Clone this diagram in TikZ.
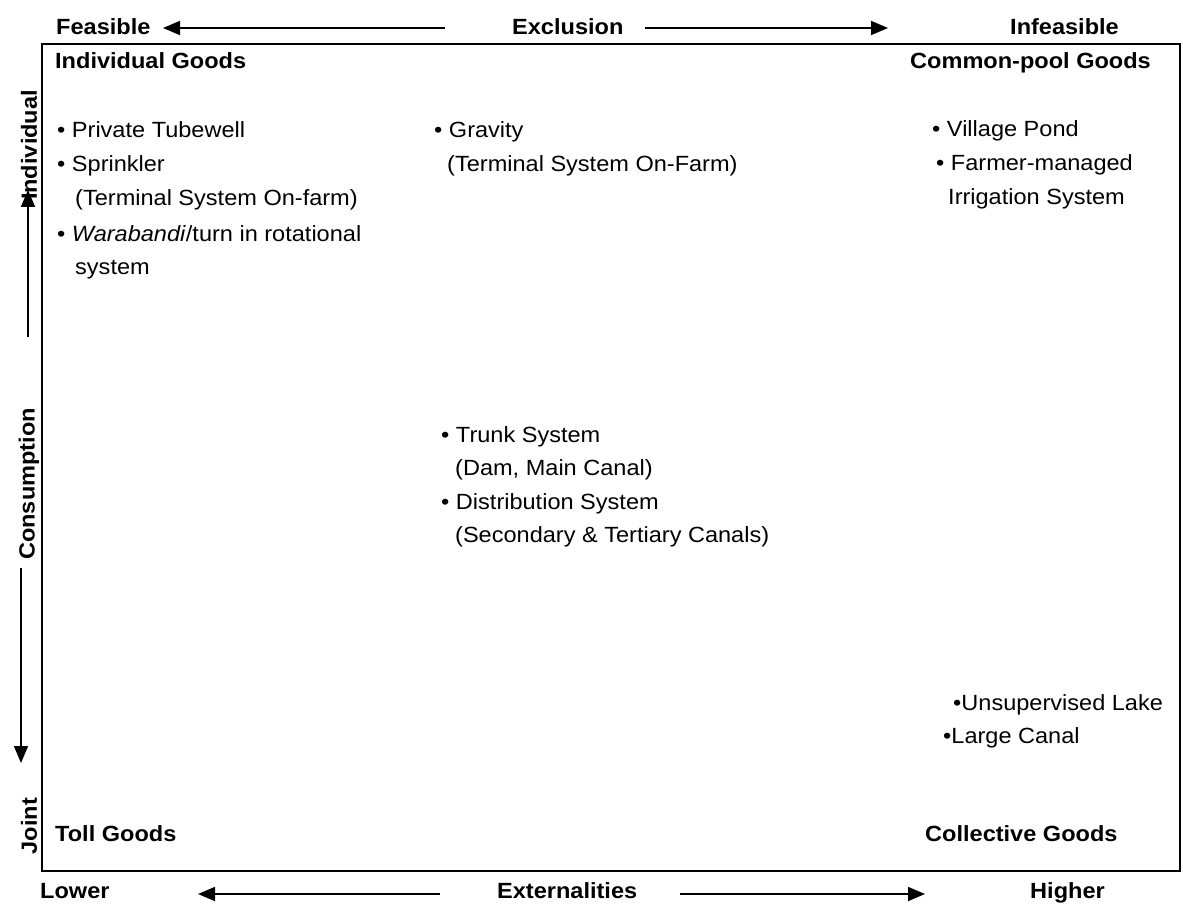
\documentclass[tikz,border=0pt]{standalone}
\usepackage{fontspec}
\setmainfont{Liberation Sans}[FakeStretch=1.07]
\usetikzlibrary{arrows.meta}
\begin{document}
\begin{tikzpicture}[x=1pt,y=-1pt,
  lbl/.style={anchor=base west,inner sep=0pt,font=\fontsize{22}{34}\selectfont},
  blbl/.style={lbl,font=\fontsize{22}{34}\selectfont\bfseries},
  axlbl/.style={inner sep=0pt,font=\fontsize{22}{26}\selectfont\bfseries},
  axarrow/.style={line width=1.6pt,-{Triangle[length=17pt,width=14pt]}},
  frame/.style={line width=1.8pt}]
\useasboundingbox (0,0) rectangle (1183,904);
% frame
\draw[frame] (42,44) rectangle (1180,871);
% top axis
\node[blbl] (feas) at (56,35) {Feasible};
\node[blbl] (excl) at (512,35) {Exclusion};
\node[blbl] (infeas) at (1010,35) {Infeasible};
\coordinate (tl1) at (445,28);
\coordinate (tl2) at (163,28);
\coordinate (tr1) at (645,28);
\coordinate (tr2) at (888,28);
\draw[axarrow] (tl1) -- (tl2);
\draw[axarrow] (tr1) -- (tr2);
% bottom axis
\node[blbl] (lower) at (40,898) {Lower};
\node[blbl] (ext) at (497,898) {Externalities};
\node[blbl] (higher) at (1030,898) {Higher};
\coordinate (bl1) at (440,894);
\coordinate (bl2) at (198,894);
\coordinate (br1) at (680,894);
\coordinate (br2) at (925,894);
\draw[axarrow] (bl1) -- (bl2);
\draw[axarrow] (br1) -- (br2);
% left axis
\node[axlbl,rotate=90] (indiv) at (29,145) {Individual};
\node[axlbl,rotate=90] (cons) at (29,484) {Consumption};
\node[axlbl,rotate=90] (joint) at (29,826) {Joint};
\coordinate (la1) at (28,337);
\coordinate (la2) at (28,190);
\coordinate (lb1) at (21,568);
\coordinate (lb2) at (21,763);
\draw[axarrow] (la1) -- (la2);
\draw[axarrow] (lb1) -- (lb2);
% corner labels
\node[blbl] (ig) at (55,69) {Individual Goods};
\node[blbl] (cpg) at (910,69) {Common-pool Goods};
\node[blbl] (tg) at (55,841) {Toll Goods};
\node[blbl] (cg) at (925,841) {Collective Goods};
% top-left items
\node[lbl] (b1) at (57,138) {\textbullet\ Private Tubewell};
\node[lbl] (b2) at (57,172) {\textbullet\ Sprinkler};
\node[lbl] (b2a) at (75,206) {(Terminal System On-farm)};
\node[lbl] (b3) at (57,241) {\textbullet\ \textit{Warabandi}/turn in rotational};
\node[lbl] (b3a) at (75,274) {system};
% top-middle
\node[lbl] (g1) at (434,138) {\textbullet\ Gravity};
\node[lbl] (g1a) at (447,172) {(Terminal System On-Farm)};
% top-right
\node[lbl] (v1) at (932,137) {\textbullet\ Village Pond};
\node[lbl] (v2) at (936,171) {\textbullet\ Farmer-managed};
\node[lbl] (v2a) at (948,205) {Irrigation System};
% middle
\node[lbl] (t1) at (441,442) {\textbullet\ Trunk System};
\node[lbl] (t1a) at (455,475) {(Dam, Main Canal)};
\node[lbl] (t2) at (441,509) {\textbullet\ Distribution System};
\node[lbl] (t2a) at (455,542) {(Secondary \& Tertiary Canals)};
% bottom-right
\node[lbl] (u1) at (953,710) {\textbullet Unsupervised Lake};
\node[lbl] (u2) at (943,743) {\textbullet Large Canal};
\end{tikzpicture}
\end{document}
